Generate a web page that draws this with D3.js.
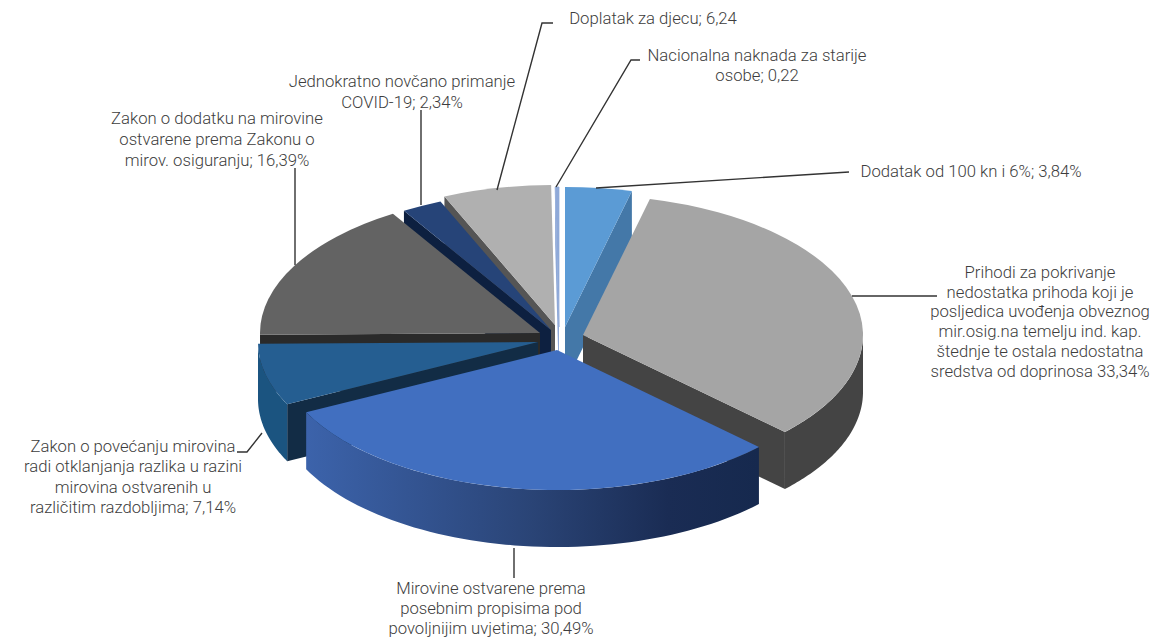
<!DOCTYPE html>
<html>
<head>
<meta charset="utf-8">
<script src="https://cdn.jsdelivr.net/npm/d3@7"></script>
<style>
  body { margin: 0; background: #fff; }
  text { font-family: Roboto, sans-serif; font-weight: 300; font-size: 16.7px; fill: #3d3d3d; }
</style>
</head>
<body>
<div id="chart"></div>
<script>
// values, clockwise from 12 o'clock
let values = [3.84, 33.34, 30.49, 7.14, 16.39, 2.34, 6.24, 0.22];

let labels = [
  ['Dodatak od 100 kn i 6%; 3,84%'],
  ['Prihodi za pokrivanje', 'nedostatka prihoda koji je', 'posljedica uvođenja obveznog', 'mir.osig.na temelju ind. kap.', 'štednje te ostala nedostatna', 'sredstva od doprinosa 33,34%'],
  ['Mirovine ostvarene prema', 'posebnim propisima pod', 'povoljnijim uvjetima; 30,49%'],
  ['Zakon o povećanju mirovina', 'radi otklanjanja razlika u razini', 'mirovina ostvarenih u', 'različitim razdobljima; 7,14%'],
  ['Zakon o dodatku na mirovine', 'ostvarene prema Zakonu o', 'mirov. osiguranju; 16,39%'],
  ['Jednokratno novčano primanje', 'COVID-19; 2,34%'],
  ['Doplatak za djecu; 6,24'],
  ['Nacionalna naknada za starije', 'osobe; 0,22']
];

let top_colors  = ['#5b9bd5', '#a5a5a5', '#416fc0', '#255e91', '#636363', '#264478', '#b0b0b0', '#8fa9d8'];
let cut_colors  = ['#4478a8', '#444444', '#1d3461', '#122c45', '#2a2a2a', '#0d2040', '#555555', '#8fa9d8'];
let wall_colors = ['#4478a8', '#444444', 'url(#wall-blue)', '#1b5480', '#2a2a2a', '#0d2040', '#555555', '#8fa9d8'];

// layout
let chart_width  = 1159;
let chart_height = 639;
let cx = 558, cy = 338;
let rx = 280, ry = 140, depth = 57;

// how far each slice is pulled out of the pie
let explode = [[7, -11], [25, -3], [-1, 12], [-20, 4], [-18, -5], [-7, -8], [-3, -13], [1, -11]];

// back to front
let paint_order = [6, 7, 0, 5, 4, 1, 3, 2];

// label centre x, first line y, line step
let label_pos = [[971, 171, 20], [1040, 272, 19.8], [491, 588, 20], [133, 446, 20.5], [217, 118, 21], [402, 81, 21], [653, 18, 20], [757, 55, 20]];

let leaders = [
  [[596, 188], [849, 172]],
  [[852, 296], [937, 296]],
  [[514, 548], [514, 578]],
  [[262, 433], [247, 452], [237, 452]],
  [[295, 265], [295, 168]],
  [[421, 205], [421, 110]],
  [[497, 190], [542, 23], [553, 23]],
  [[556, 187], [631, 60], [640, 60]]
];

let svg = d3.select('#chart')
  .append('svg')
  .attr('width', chart_width)
  .attr('height', chart_height);

// gradient on the big front wall (in the slice's own coordinates)
let grad = svg.append('defs').append('linearGradient')
  .attr('id', 'wall-blue')
  .attr('gradientUnits', 'userSpaceOnUse')
  .attr('x1', -rx * 0.9).attr('x2', rx * 0.72).attr('y1', 0).attr('y2', 0);
grad.append('stop').attr('offset', 0).attr('stop-color', '#3c63ab');
grad.append('stop').attr('offset', 0.5).attr('stop-color', '#2a4476');
grad.append('stop').attr('offset', 0.8).attr('stop-color', '#1a2c54');
grad.append('stop').attr('offset', 1).attr('stop-color', '#16294e');

let pie = d3.pie().sort(null).value(d => d);
let slices = pie(values);

let arc = d3.arc().innerRadius(0).outerRadius(rx);

// disc angle -> screen
let px = a => rx * Math.sin(a);
let py = a => -ry * Math.cos(a);

let wall_area = d3.area()
  .x(a => px(a))
  .y0(a => py(a))
  .y1(a => py(a) + depth);

function cut_face(a) {
  let p = d3.path();
  p.moveTo(0, 0);
  p.lineTo(px(a), py(a));
  p.lineTo(px(a), py(a) + depth);
  p.lineTo(0, depth);
  p.closePath();
  return p.toString();
}

paint_order.forEach(i => {
  let s = slices[i];
  let g = svg.append('g')
    .attr('transform', 'translate(' + (cx + explode[i][0]) + ',' + (cy + explode[i][1]) + ')');

  // cut faces that look towards the viewer
  if (Math.sin(s.startAngle) < -0.001) {
    g.append('path').attr('d', cut_face(s.startAngle)).attr('fill', cut_colors[i]);
  }
  if (Math.sin(s.endAngle) > 0.001) {
    g.append('path').attr('d', cut_face(s.endAngle)).attr('fill', cut_colors[i]);
  }

  // outer wall, front half only
  let a0 = Math.max(s.startAngle, Math.PI / 2);
  let a1 = Math.min(s.endAngle, Math.PI * 1.5);
  if (a1 > a0) {
    let steps = d3.range(0, 61).map(k => a0 + (a1 - a0) * k / 60);
    g.append('path').attr('d', wall_area(steps)).attr('fill', wall_colors[i]);
  }

  // top
  g.append('path')
    .attr('d', arc(s))
    .attr('transform', 'scale(1,' + (ry / rx) + ')')
    .attr('fill', top_colors[i])
    .attr('stroke', i == 7 ? top_colors[i] : 'none')
    .attr('stroke-width', 1);
});

// leader lines
let line = d3.line();
svg.append('g')
  .selectAll('path')
  .data(leaders)
  .enter()
  .append('path')
  .attr('d', d => line(d))
  .attr('fill', 'none')
  .attr('stroke', '#333')
  .attr('stroke-width', 1.4);

// labels
labels.forEach((lines, i) => {
  svg.append('text')
    .attr('text-anchor', 'middle')
    .selectAll('tspan')
    .data(lines)
    .enter()
    .append('tspan')
    .attr('x', label_pos[i][0])
    .attr('y', (d, k) => label_pos[i][1] + k * label_pos[i][2])
    .attr('dy', '0.35em')
    .text(d => d);
});
</script>
</body>
</html>
